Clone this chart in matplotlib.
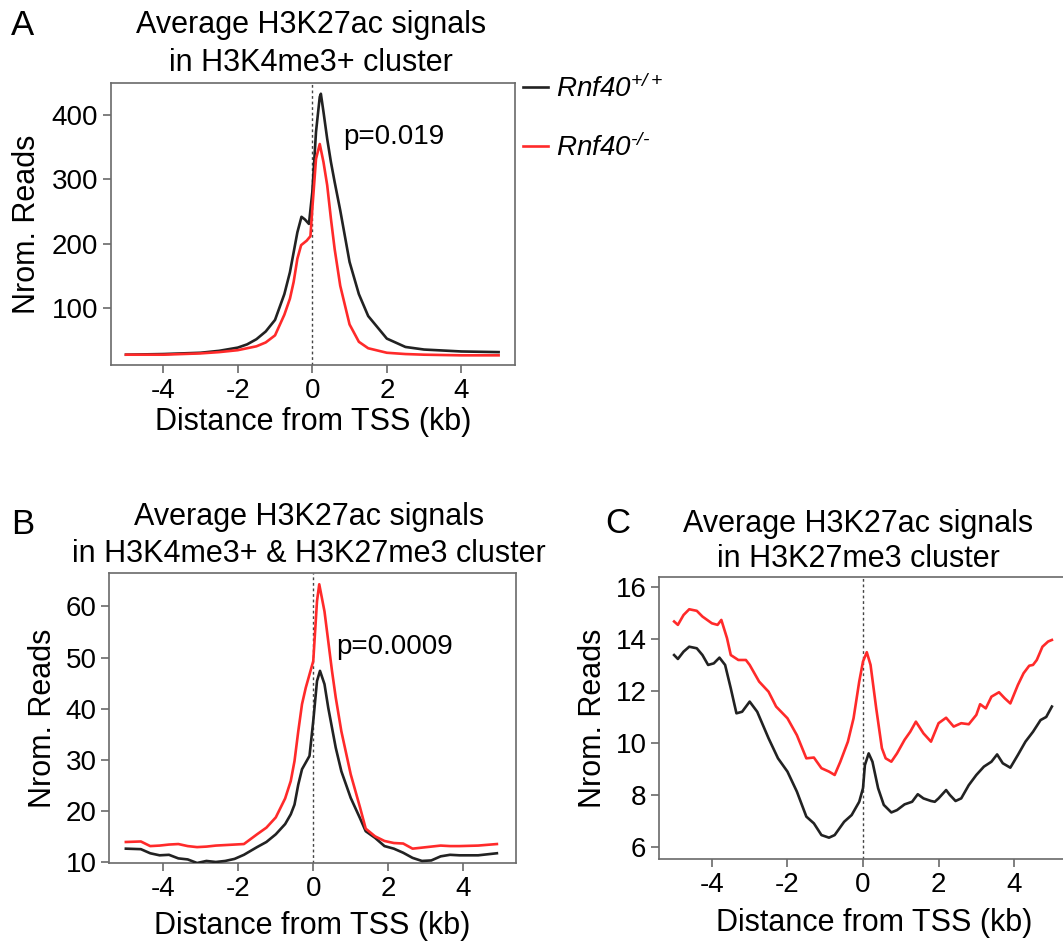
import matplotlib
matplotlib.use("Agg")
import matplotlib.pyplot as plt

plt.rcParams["font.family"] = ["Liberation Sans", "DejaVu Sans"]
plt.rcParams["axes.unicode_minus"] = False
plt.rcParams["mathtext.fontset"] = "custom"
plt.rcParams["mathtext.rm"] = "Liberation Sans:italic"
plt.rcParams["mathtext.it"] = "Liberation Sans:italic"

# -----------------------------
# DATA
# -----------------------------
# Panel A: H3K4me3+ cluster
xa_wt = [-5, -4, -3, -2.5, -2, -1.75, -1.5, -1.25, -1, -0.75, -0.6, -0.5, -0.4,
         -0.29, -0.2, -0.09, 0, 0.1, 0.2, 0.23, 0.3, 0.4, 0.5, 0.6, 0.75, 1,
         1.25, 1.5, 2, 2.5, 3, 4, 5]
ya_wt = [28, 29, 31, 34, 39, 44, 52, 64, 82, 122, 156, 187, 218,
         242, 238, 231, 280, 374, 428, 433, 405, 363, 327, 296, 252, 172,
         122, 88, 53, 40, 36, 33, 32]
xa_ko = [-5, -4, -3, -2.5, -2, -1.5, -1.25, -1, -0.75, -0.6, -0.5, -0.4, -0.3,
         -0.15, -0.05, 0, 0.1, 0.2, 0.3, 0.4, 0.5, 0.6, 0.75, 1, 1.25, 1.5, 2,
         2.5, 3, 4, 5]
ya_ko = [28, 28, 30, 32, 35, 41, 47, 58, 90, 115, 141, 177, 198,
         205, 212, 254, 332, 355, 327, 291, 239, 192, 135, 75, 48, 38, 31,
         29, 28, 27, 27]

# Panel B: H3K4me3+ & H3K27me3 cluster
xb_wt = [-5, -4.6, -4.35, -4.1, -3.85, -3.6, -3.35, -3.1, -2.85, -2.6, -2.35,
         -2.1, -1.85, -1.5, -1.25, -1, -0.75, -0.6, -0.5, -0.4, -0.3, -0.2,
         -0.1, 0, 0.1, 0.18, 0.3, 0.4, 0.5, 0.6, 0.75, 1, 1.25, 1.4, 1.65, 1.9,
         2.15, 2.4, 2.65, 2.9, 3.15, 3.4, 3.65, 3.9, 4.4, 4.9]
yb_wt = [12.7, 12.6, 11.8, 11.4, 11.5, 10.8, 10.6, 9.9, 10.3, 10.1, 10.3,
         10.7, 11.5, 13.0, 14.0, 15.5, 17.5, 19.4, 21.3, 25.2, 28.2, 29.5,
         30.8, 37.6, 45.4, 47.4, 44.8, 40.2, 36.3, 32.4, 27.8, 22.6, 18.6, 16.1,
         14.8, 13.2, 12.7, 11.9, 10.9, 10.3, 10.4, 11.2, 11.5, 11.4, 11.4, 11.8]
xb_ko = [-5, -4.6, -4.35, -4.1, -3.85, -3.6, -3.35, -3.1, -2.85, -2.6, -2.35,
         -2.1, -1.85, -1.5, -1.25, -1, -0.75, -0.6, -0.5, -0.4, -0.3, -0.2,
         -0.1, 0, 0.1, 0.16, 0.3, 0.4, 0.5, 0.6, 0.75, 1, 1.25, 1.4, 1.65, 1.9,
         2.15, 2.4, 2.65, 2.9, 3.15, 3.4, 3.65, 3.9, 4.4, 4.9]
yb_ko = [14.0, 14.1, 13.2, 13.3, 13.5, 13.6, 13.2, 13.0, 13.1, 13.3, 13.4,
         13.5, 13.6, 15.5, 16.8, 18.8, 22.5, 25.9, 29.8, 35.6, 40.9, 44.1,
         46.7, 49.3, 61.0, 64.3, 59.0, 53.2, 47.4, 42.2, 35.6, 27.2, 20.7, 16.6,
         15.1, 14.2, 13.8, 13.7, 12.7, 12.9, 13.1, 13.3, 13.2, 13.2, 13.3, 13.6]

# Panel C: H3K27me3 cluster
xc_wt = [-5, -4.9, -4.75, -4.6, -4.4, -4.25, -4.1, -3.95, -3.8, -3.65, -3.5,
         -3.35, -3.2, -3, -2.8, -2.5, -2.25, -2, -1.75, -1.5, -1.3, -1.1, -0.9,
         -0.75, -0.5, -0.3, -0.1, 0, 0.05, 0.15, 0.25, 0.4, 0.55, 0.75, 0.9,
         1.1, 1.3, 1.45, 1.6, 1.8, 1.9, 2, 2.2, 2.3, 2.45, 2.6, 2.8, 3, 3.2,
         3.4, 3.55, 3.7, 3.9, 4.1, 4.3, 4.5, 4.7, 4.85, 5]
yc_wt = [13.38, 13.23, 13.51, 13.7, 13.64, 13.38, 13.0, 13.06, 13.28, 13.0, 12.1,
         11.14, 11.2, 11.59, 11.2, 10.18, 9.41, 8.9, 8.13, 7.17, 6.91, 6.46, 6.36,
         6.46, 6.97, 7.23, 7.74, 8.26, 9.15, 9.6, 9.28, 8.26, 7.62, 7.33, 7.42,
         7.64, 7.74, 8.03, 7.87, 7.77, 7.74, 7.87, 8.19, 8.0, 7.77, 7.87, 8.38,
         8.77, 9.09, 9.28, 9.56, 9.22, 9.05, 9.54, 10.05, 10.43, 10.88, 11.0, 11.4]
xc_ko = [-5, -4.9, -4.75, -4.6, -4.4, -4.25, -4, -3.85, -3.75, -3.6, -3.5, -3.3,
         -3.1, -3, -2.75, -2.5, -2.3, -2, -1.75, -1.5, -1.3, -1.1, -0.9, -0.75,
         -0.6, -0.4, -0.25, -0.1, 0, 0.1, 0.2, 0.35, 0.5, 0.6, 0.75, 0.9, 1.1,
         1.25, 1.4, 1.6, 1.8, 2, 2.2, 2.4, 2.6, 2.8, 3, 3.1, 3.25, 3.4, 3.6,
         3.75, 3.9, 4.1, 4.25, 4.4, 4.5, 4.6, 4.75, 4.9, 5]
yc_ko = [14.67, 14.54, 14.92, 15.14, 15.08, 14.86, 14.6, 14.54, 14.73, 14.03,
         13.38, 13.19, 13.19, 13.0, 12.36, 11.97, 11.4, 10.95, 10.3, 9.41, 9.44,
         9.03, 8.9, 8.77, 9.28, 10.05, 10.95, 12.36, 13.13, 13.49, 13.0, 11.33,
         9.8, 9.41, 9.28, 9.6, 10.12, 10.43, 10.82, 10.37, 10.05, 10.76, 10.97,
         10.63, 10.76, 10.72, 11.08, 11.49, 11.33, 11.78, 11.95, 11.72, 11.52,
         12.23, 12.68, 12.97, 13.0, 13.19, 13.7, 13.9, 13.96]

x_ticks = [-4, -2, 0, 2, 4]
labels = [r"$Rnf40^{+/+}$", "$Rnf40^{\u2010/\u2010}$"]

BLACK = "#222222"
RED = "#ff2a2a"
SPINE = "#6a6a6a"

W, H = 1063, 942
fig = plt.figure(figsize=(W / 100, H / 100), dpi=100)


def px_box(left, top, right, bottom):
    return [left / W, 1 - bottom / H, (right - left) / W, (bottom - top) / H]


def style_axes(ax, xlim, ylim, yticks):
    ax.set_xlim(*xlim)
    ax.set_ylim(*ylim)
    ax.set_xticks(x_ticks)
    ax.set_yticks(yticks)
    ax.axvline(0, color="#444444", lw=1.0, ls=(0, (2, 2)), zorder=1)
    for sp in ax.spines.values():
        sp.set_color(SPINE)
        sp.set_linewidth(1.2)
    ax.tick_params(direction="out", length=5.5, width=1.2, color=SPINE,
                   labelsize=20, pad=3.5)


def panel(ax, x_wt, y_wt, x_ko, y_ko):
    ax.plot(x_wt, y_wt, color=BLACK, lw=1.9, zorder=3, label=labels[0])
    ax.plot(x_ko, y_ko, color=RED, lw=1.9, zorder=3, label=labels[1])


FS = 22

# ---- Panel A ----
axA = fig.add_axes(px_box(110.7, 83, 515, 365))
panel(axA, xa_wt, ya_wt, xa_ko, ya_ko)
style_axes(axA, (-5.41, 5.44), (12, 449.7), [100, 200, 300, 400])
axA.text(0.84, 355, "p=0.019", fontsize=20, ha="left", va="baseline")
axA.set_xlabel("Distance from TSS (kb)", fontsize=FS)
axA.set_ylabel("Nrom. Reads", fontsize=FS)
axA.xaxis.set_label_coords(0.5, -0.15)
axA.yaxis.set_label_coords(-0.17, 0.5)
axA.legend(loc="upper left", bbox_to_anchor=(1.02, 1.03), frameon=False,
           fontsize=20, handlelength=0.9, handletextpad=0.3, labelspacing=1.1,
           borderaxespad=0, borderpad=0)

# ---- Panel B ----
axB = fig.add_axes(px_box(109, 573, 516, 863))
panel(axB, xb_wt, yb_wt, xb_ko, yb_ko)
style_axes(axB, (-5.45, 5.41), (9.9, 66.5), [10, 20, 30, 40, 50, 60])
axB.text(0.62, 50.6, "p=0.0009", fontsize=20, ha="left", va="baseline")
axB.set_xlabel("Distance from TSS (kb)", fontsize=FS)
axB.set_ylabel("Nrom. Reads", fontsize=FS)
axB.xaxis.set_label_coords(0.5, -0.165)
axB.yaxis.set_label_coords(-0.125, 0.5)

# ---- Panel C ----
axC = fig.add_axes(px_box(659, 577, 1067, 859))
panel(axC, xc_wt, yc_wt, xc_ko, yc_ko)
style_axes(axC, (-5.4, 5.4), (5.54, 16.38), [6, 8, 10, 12, 14, 16])
axC.set_xlabel("Distance from TSS (kb)", fontsize=FS)
axC.set_ylabel("Nrom. Reads", fontsize=FS)
axC.xaxis.set_label_coords(0.527, -0.175)
axC.yaxis.set_label_coords(-0.125, 0.5)

# ---- titles and panel letters ----
titles = [
    (311, 33, 71, "Average H3K27ac signals", "in H3K4me3+ cluster"),
    (309, 525, 562, "Average H3K27ac signals", "in H3K4me3+ & H3K27me3 cluster"),
    (858, 532, 567, "Average H3K27ac signals", "in H3K27me3 cluster"),
]
for cx, y1, y2, l1, l2 in titles:
    fig.text(cx / W, 1 - y1 / H, l1, fontsize=FS, ha="center", va="baseline")
    fig.text(cx / W, 1 - y2 / H, l2, fontsize=FS, ha="center", va="baseline")

for lx, ly, letter in [(11, 35, "A"), (11, 534, "B"), (605, 533, "C")]:
    fig.text(lx / W, 1 - ly / H, letter, fontsize=25, ha="left", va="baseline")

fig.savefig("out.png", dpi=100)
